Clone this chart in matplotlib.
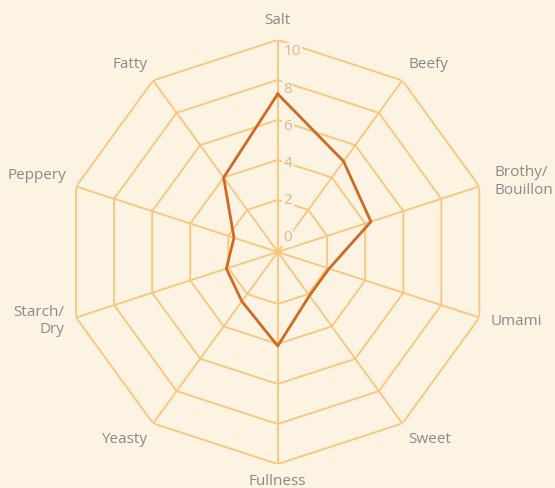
import numpy as np
import matplotlib.pyplot as plt

plt.rcParams['font.family'] = ['Open Sans', 'DejaVu Sans']

# flavour profile, clockwise from the top
categories = ['Salt', 'Beefy', 'Brothy/\nBouillon', 'Umami', 'Sweet',
              'Fullness', 'Yeasty', 'Starch/\nDry', 'Peppery', 'Fatty']
values = [7.3, 5.0, 4.3, 2.1, 2.1, 4.1, 2.45, 2.1, 1.7, 4.0]
levels = [0, 2, 4, 6, 8, 10]

bg = '#fdf3e3'
gridc = '#f9c67c'
linec = '#cf6a22'
textc = '#8a8a8a'
tickc = '#e6b487'

n = len(categories)
theta = np.arange(n) * 2 * np.pi / n
theta_c = np.append(theta, theta[0])

fig = plt.figure(figsize=(5.55, 4.88), dpi=100)
fig.patch.set_facecolor(bg)
ax = fig.add_axes([0.1184, 0.0492, 0.764, 0.869], projection='polar')
ax.set_facecolor(bg)
ax.set_theta_zero_location('N')
ax.set_theta_direction(-1)
ax.set_ylim(-0.6, 10)
ax.set_xticks([])
ax.set_yticks([])
ax.grid(False)
ax.spines['polar'].set_visible(False)

# decagon rings (the 0 ring is too small to show) and spokes
for lv in levels[1:]:
    ax.plot(theta_c, [lv] * (n + 1), color=gridc, lw=1.3, zorder=1)
for t in theta:
    ax.plot([t, t], [-0.6, 10], color=gridc, lw=1.3, zorder=1)
ax.plot([0], [-0.6], 'o', color=gridc, ms=4, zorder=1)

# radial tick labels along the Salt axis
for lv in levels:
    ax.annotate(str(lv), xy=(0, 0.1 + 0.93 * lv), xytext=(4, 0),
                textcoords='offset points', ha='left', va='center',
                fontsize=11, color=tickc, zorder=2,
                bbox=dict(boxstyle='square,pad=0.1', fc=bg, ec='none'))

# data
ax.plot(theta_c, values + values[:1], color=linec, lw=2.0, zorder=3)

# category labels
place = [(10.6, 'center', 'bottom'), (10.5, 'left', 'bottom'),
         (10.8, 'left', 'center'), (10.6, 'left', 'center'),
         (10.5, 'left', 'top'), (10.5, 'center', 'top'),
         (10.5, 'right', 'top'), (10.6, 'right', 'center'),
         (10.5, 'right', 'bottom'), (10.5, 'right', 'bottom')]
for t, lab, (r, ha, va) in zip(theta, categories, place):
    ax.text(t, r, lab, ha=ha, va=va, fontsize=11, color=textc,
            linespacing=1.2, clip_on=False)

plt.savefig('out.png', dpi=100, facecolor=bg)
